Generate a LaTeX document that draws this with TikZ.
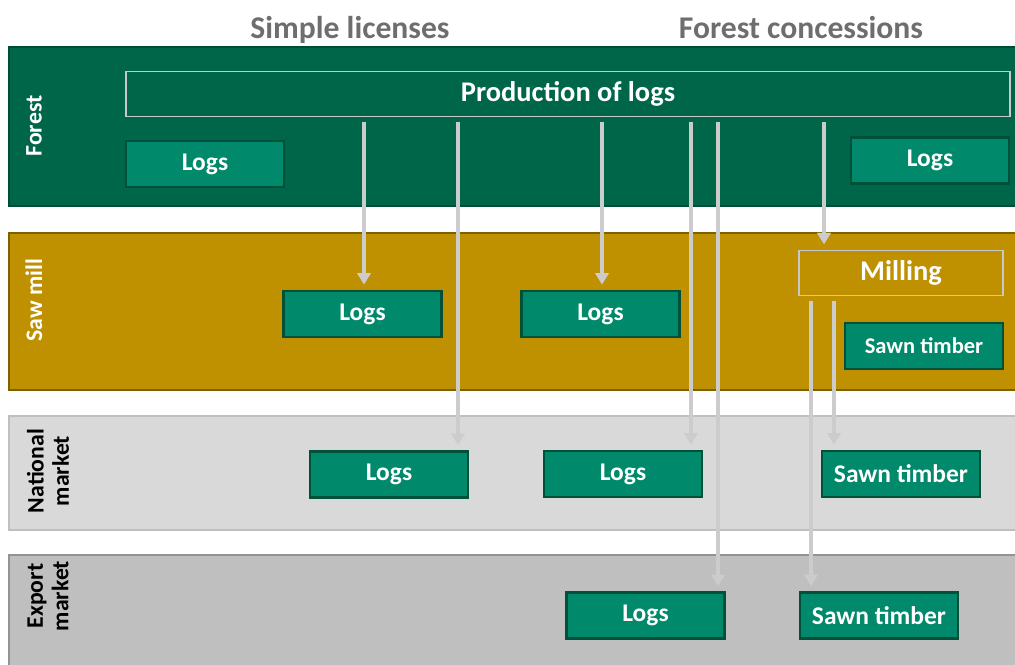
\documentclass[tikz,border=0pt]{standalone}
\usepackage{fontspec}
\setmainfont{Carlito}
\usepackage{xcolor}
\usepackage{tikz}
\usetikzlibrary{
  arrows.meta,
  positioning
}
\definecolor{forestbg}{HTML}{00664A}
\definecolor{forestln}{HTML}{004D36}
\definecolor{millbg}{HTML}{BF9000}
\definecolor{millln}{HTML}{7F6000}
\definecolor{natbg}{HTML}{D9D9D9}
\definecolor{natln}{HTML}{BFBFBF}
\definecolor{expbg}{HTML}{BFBFBF}
\definecolor{expln}{HTML}{939393}
\definecolor{itemfill}{HTML}{00896A}
\definecolor{itemln}{HTML}{00503A}
\definecolor{flowgray}{HTML}{CCCCCC}
\definecolor{stageln}{HTML}{C8C8C8}
\definecolor{titlegray}{HTML}{6E6E6E}

\begin{document}
\begin{tikzpicture}[
  x=0.02cm, y=-0.02cm,
  band/.style={line width=1.1pt},
  bandlbl/.style={rotate=90, align=center,
                  font=\bfseries\fontsize{13.5}{14.5}\selectfont},
  item/.style={draw=itemln, line width=1.3pt, fill=itemfill, text=white,
               minimum width=3.16cm, minimum height=0.92cm, inner sep=0pt,
               font=\bfseries\fontsize{14.5}{16}\selectfont},
  stage/.style={draw=stageln, line width=1pt, text=white, inner sep=0pt,
                minimum height=0.9cm,
                font=\bfseries\fontsize{16.2}{18}\selectfont},
  flow/.style={-{Triangle[width=7.5pt,length=6.5pt]}, line width=2.2pt, flowgray,
               shorten <=2.8pt, shorten >=3pt},
  head/.style={font=\bfseries\fontsize{18}{20}\selectfont, text=titlegray,
               anchor=base},
]
  \useasboundingbox (0,0) rectangle (1015,664);
  \clip (0,0) rectangle (1015,664);

  % Column headings
  \node[head] (simple) at (350,38) {Simple licenses};
  \node[head] (conc) at (801,38) {Forest concessions};

  % Bands
  \draw[band, fill=forestbg, draw=forestln] (9,47) rectangle (1020,206);
  \draw[band, fill=millbg, draw=millln] (9,233) rectangle (1020,390);
  \draw[band, fill=natbg, draw=natln] (9,416) rectangle (1020,530);
  \draw[band, fill=expbg, draw=expln] (9,555) rectangle (1020,680);

  \node[bandlbl, text=white] (lforest) at (34,126) {Forest};
  \node[bandlbl, text=white] (lmill) at (34,300) {Saw mill};
  \node[bandlbl, text=black] (lnat) at (48,471) {National\\market};
  \node[bandlbl, text=black] (lexp) at (48,596) {Export\\market};

  % Forest
  \node[stage, fill=forestbg, minimum width=17.68cm] (prod) at (568,94) {Production of logs};
  \node[item] (fl1) at (205,164) {Logs};
  \node[item] (fl2) at (930,160.5) {Logs};

  % Saw mill
  \node[item] (sm1) at (362.5,314) {Logs};
  \node[item] (sm2) at (600.5,314) {Logs};
  \node[stage, fill=millbg, minimum width=4.08cm] (mill) at (901,273) {Milling};
  \node[item, font=\bfseries\fontsize{12.8}{14}\selectfont] (smt) at (924,346) {Sawn timber};

  % National market
  \node[item] (nl1) at (389,474.5) {Logs};
  \node[item] (nl2) at (623,474) {Logs};
  \node[item] (nst) at (901,474) {Sawn timber};

  % Export market
  \node[item] (el) at (645.5,615.5) {Logs};
  \node[item] (est) at (879,615.5) {Sawn timber};

  % Flows
  \draw[flow] (364,0 |- prod.south) -- (364,0 |- sm1.north);
  \draw[flow] (458,0 |- prod.south) -- (458,0 |- nl1.north);
  \draw[flow] (602,0 |- prod.south) -- (602,0 |- sm2.north);
  \draw[flow] (691,0 |- prod.south) -- (691,0 |- nl2.north);
  \draw[flow] (718,0 |- prod.south) -- (718,0 |- el.north);
  \draw[flow] (824,0 |- prod.south) -- (824,0 |- mill.north);
  \draw[flow] (811,0 |- mill.south) -- (811,0 |- est.north);
  \draw[flow] (834,0 |- mill.south) -- (834,0 |- nst.north);
\end{tikzpicture}
\end{document}
